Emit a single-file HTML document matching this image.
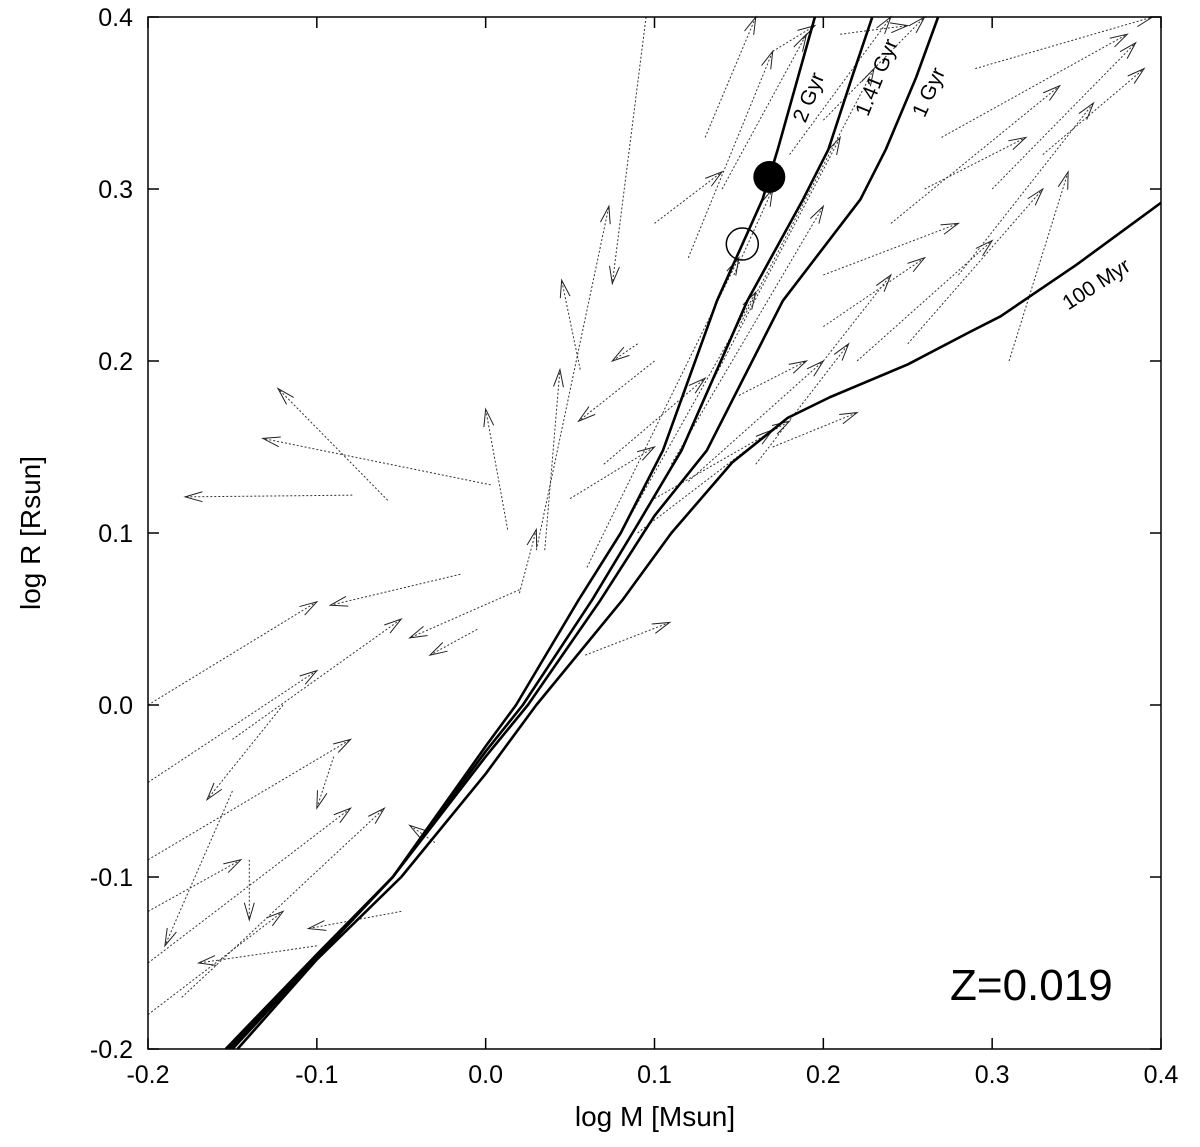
<!DOCTYPE html>
<html><head><meta charset="utf-8"><style>
body{margin:0;background:#fff}
svg text{font-family:"Liberation Sans",Arial,sans-serif}
</style></head><body>
<svg id="chart" width="1200" height="1142" viewBox="0 0 1200 1142" xmlns="http://www.w3.org/2000/svg">
<g id="arrows"></g>
<g id="iso"></g>
<g id="axes"></g>
<text x="950" y="1000" font-size="44">Z=0.019</text>
<text x="655" y="1126" font-size="28" text-anchor="middle">log M [Msun]</text>
<text transform="translate(40,533) rotate(-90)" font-size="28" text-anchor="middle">log R [Rsun]</text>
</svg>
<script>
const xTicks=[-0.2,-0.1,0.0,0.1,0.2,0.3,0.4];
const yTicks=[-0.2,-0.1,0.0,0.1,0.2,0.3,0.4];
const xTickLabels=["-0.2","-0.1","0.0","0.1","0.2","0.3","0.4"];
const yTickLabels=["-0.2","-0.1","0.0","0.1","0.2","0.3","0.4"];
const iso100Myr=[[-0.147,-0.2],[-0.1,-0.148],[-0.05,-0.1],[0.0,-0.04],[0.03,0.0],[0.081,0.061],[0.11,0.1],[0.146,0.141],[0.179,0.167],[0.204,0.179],[0.25,0.198],[0.287,0.217],[0.305,0.226],[0.35,0.256],[0.4,0.292]];
const iso1Gyr=[[-0.15,-0.2],[-0.1,-0.147],[-0.055,-0.1],[0.0,-0.03],[0.025,0.0],[0.068,0.061],[0.1,0.11],[0.131,0.148],[0.176,0.235],[0.222,0.294],[0.237,0.323],[0.255,0.365],[0.268,0.4]];
const iso141Gyr=[[-0.152,-0.2],[-0.1,-0.146],[-0.055,-0.1],[0.0,-0.027],[0.022,0.0],[0.063,0.061],[0.09,0.105],[0.116,0.148],[0.155,0.235],[0.188,0.294],[0.203,0.323],[0.217,0.365],[0.229,0.4]];
const iso2Gyr=[[-0.154,-0.2],[-0.1,-0.145],[-0.055,-0.1],[0.0,-0.024],[0.018,0.0],[0.055,0.061],[0.08,0.1],[0.105,0.148],[0.137,0.235],[0.164,0.294],[0.173,0.323],[0.185,0.365],[0.195,0.4]];
const starA=[0.168,0.307];
const starB=[0.152,0.268];
const arrowStart=[[-0.079,0.122],[0.003,0.128],[-0.058,0.119],[0.013,0.102],[-0.015,0.076],[0.02,0.067],[-0.005,0.044],[0.059,0.029],[0.035,0.09],[0.056,0.195],[0.03,0.09],[0.09,0.21],[0.1,0.2],[0.02,0.065],[0.095,0.4],[-0.2,-0.045],[-0.2,-0.09],[-0.2,-0.12],[-0.2,-0.18],[-0.09,-0.03],[-0.12,0.0],[-0.15,-0.05],[-0.05,-0.12],[-0.03,-0.08],[-0.1,-0.14],[-0.14,-0.09],[0.15,0.18],[0.17,0.15],[0.1,0.12],[0.09,0.1],[0.12,0.13],[0.16,0.14],[0.2,0.2],[0.2,0.25],[0.22,0.2],[0.25,0.21],[0.28,0.25],[0.3,0.3],[0.33,0.32],[0.29,0.37],[0.31,0.2],[0.147,0.25],[0.1,0.28],[0.13,0.33],[0.17,0.38],[0.21,0.39],[0.05,0.12],[0.07,0.14],[0.2,0.22],[0.26,0.3],[0.06,0.08],[0.08,0.1],[0.11,0.14],[0.13,0.18],[0.15,0.22],[0.12,0.26],[0.14,0.3],[0.18,0.32],[0.2,0.34],[0.24,0.28],[0.27,0.33],[-0.2,-0.15],[-0.18,-0.17],[-0.2,0.0],[-0.15,-0.02]];
const arrowEnd=[[-0.178,0.121],[-0.132,0.155],[-0.123,0.184],[0.0,0.172],[-0.092,0.058],[-0.045,0.039],[-0.033,0.029],[0.109,0.048],[0.044,0.195],[0.045,0.247],[0.073,0.29],[0.075,0.2],[0.055,0.165],[0.03,0.102],[0.075,0.245],[-0.1,0.02],[-0.08,-0.02],[-0.145,-0.09],[-0.12,-0.12],[-0.1,-0.06],[-0.165,-0.055],[-0.19,-0.14],[-0.105,-0.13],[-0.045,-0.07],[-0.17,-0.15],[-0.14,-0.125],[0.19,0.2],[0.22,0.17],[0.18,0.165],[0.17,0.16],[0.2,0.2],[0.215,0.21],[0.24,0.25],[0.28,0.28],[0.3,0.27],[0.33,0.3],[0.36,0.35],[0.385,0.385],[0.39,0.37],[0.395,0.4],[0.345,0.31],[0.17,0.3],[0.14,0.31],[0.16,0.4],[0.195,0.395],[0.25,0.395],[0.1,0.15],[0.13,0.19],[0.26,0.26],[0.32,0.33],[0.15,0.26],[0.16,0.24],[0.2,0.29],[0.21,0.33],[0.23,0.37],[0.17,0.38],[0.19,0.39],[0.24,0.4],[0.26,0.4],[0.34,0.36],[0.38,0.39],[-0.08,-0.06],[-0.06,-0.06],[-0.1,0.06],[-0.05,0.05]];
const X0=148,X1=1161,Y0=1049,Y1=17;
const sx=v=>X0+(v+0.2)/0.6*(X1-X0);
const sy=v=>Y0-(v+0.2)/0.6*(Y0-Y1);
const NS="http://www.w3.org/2000/svg";
function mk(t,a,p){const e=document.createElementNS(NS,t);for(const k in a)e.setAttribute(k,a[k]);p.appendChild(e);return e;}
const ar=document.getElementById('arrows');
arrowStart.forEach((s,i)=>{const e=arrowEnd[i];
 const x1=sx(s[0]),y1=sy(s[1]),x2=sx(e[0]),y2=sy(e[1]);
 const g=mk('g',{},ar);
 
 
 mk('line',{x1,y1,x2,y2,stroke:'#333','stroke-width':1,'stroke-dasharray':'2,2'},g);
 const a=Math.atan2(y2-y1,x2-x1),L=18,h=0.28;
 const p=[[x2-L*Math.cos(a-h),y2-L*Math.sin(a-h)],[x2,y2],[x2-L*Math.cos(a+h),y2-L*Math.sin(a+h)]];
 mk('polyline',{points:p.map(q=>q.join(',')).join(' '),fill:'none',stroke:'#222','stroke-width':1},g);
});
const iso=document.getElementById('iso');
[[iso100Myr,'isochrone-100myr'],[iso1Gyr,'isochrone-1gyr'],[iso141Gyr,'isochrone-1.41gyr'],[iso2Gyr,'isochrone-2gyr']].forEach(([d,n])=>{
 const p=mk('polyline',{points:d.map(q=>sx(q[0])+','+sy(q[1])).join(' '),fill:'none',stroke:'#000','stroke-width':2.6,'stroke-linejoin':'round'},iso);
 
 
});
const c1=mk('circle',{cx:sx(starA[0]),cy:sy(starA[1]),r:16,fill:'#000'},iso);


const c2=mk('circle',{cx:sx(starB[0]),cy:sy(starB[1]),r:16,fill:'none',stroke:'#000','stroke-width':1.5},iso);


const labs=[["2 Gyr",815,100,-68],["1.41 Gyr",883,80,-68],["1 Gyr",935,95,-66],["100 Myr",1100,290,-33]];
labs.forEach(l=>{const t=mk('text',{transform:`translate(${l[1]},${l[2]}) rotate(${l[3]})`,'font-size':21,'text-anchor':'middle'},iso);t.textContent=l[0];
 
 });
const ax=document.getElementById('axes');
const fr=mk('rect',{x:X0,y:Y1,width:X1-X0,height:Y0-Y1,fill:'none',stroke:'#000','stroke-width':1.5},ax);


xTicks.forEach((v,i)=>{const x=sx(v);
 mk('line',{x1:x,y1:Y0,x2:x,y2:Y0-11,stroke:'#000','stroke-width':1.5},ax);
 mk('line',{x1:x,y1:Y1,x2:x,y2:Y1+11,stroke:'#000','stroke-width':1.5},ax);
 const t=mk('text',{x:x,y:Y0+34,'font-size':25,'text-anchor':'middle'},ax);t.textContent=xTickLabels[i];
 
 });
yTicks.forEach((v,i)=>{const y=sy(v);
 mk('line',{x1:X0,y1:y,x2:X0+11,y2:y,stroke:'#000','stroke-width':1.5},ax);
 mk('line',{x1:X1,y1:y,x2:X1-11,y2:y,stroke:'#000','stroke-width':1.5},ax);
 const t=mk('text',{x:X0-15,y:y+9,'font-size':25,'text-anchor':'end'},ax);t.textContent=yTickLabels[i];
 
 });
</script>
</body></html>
